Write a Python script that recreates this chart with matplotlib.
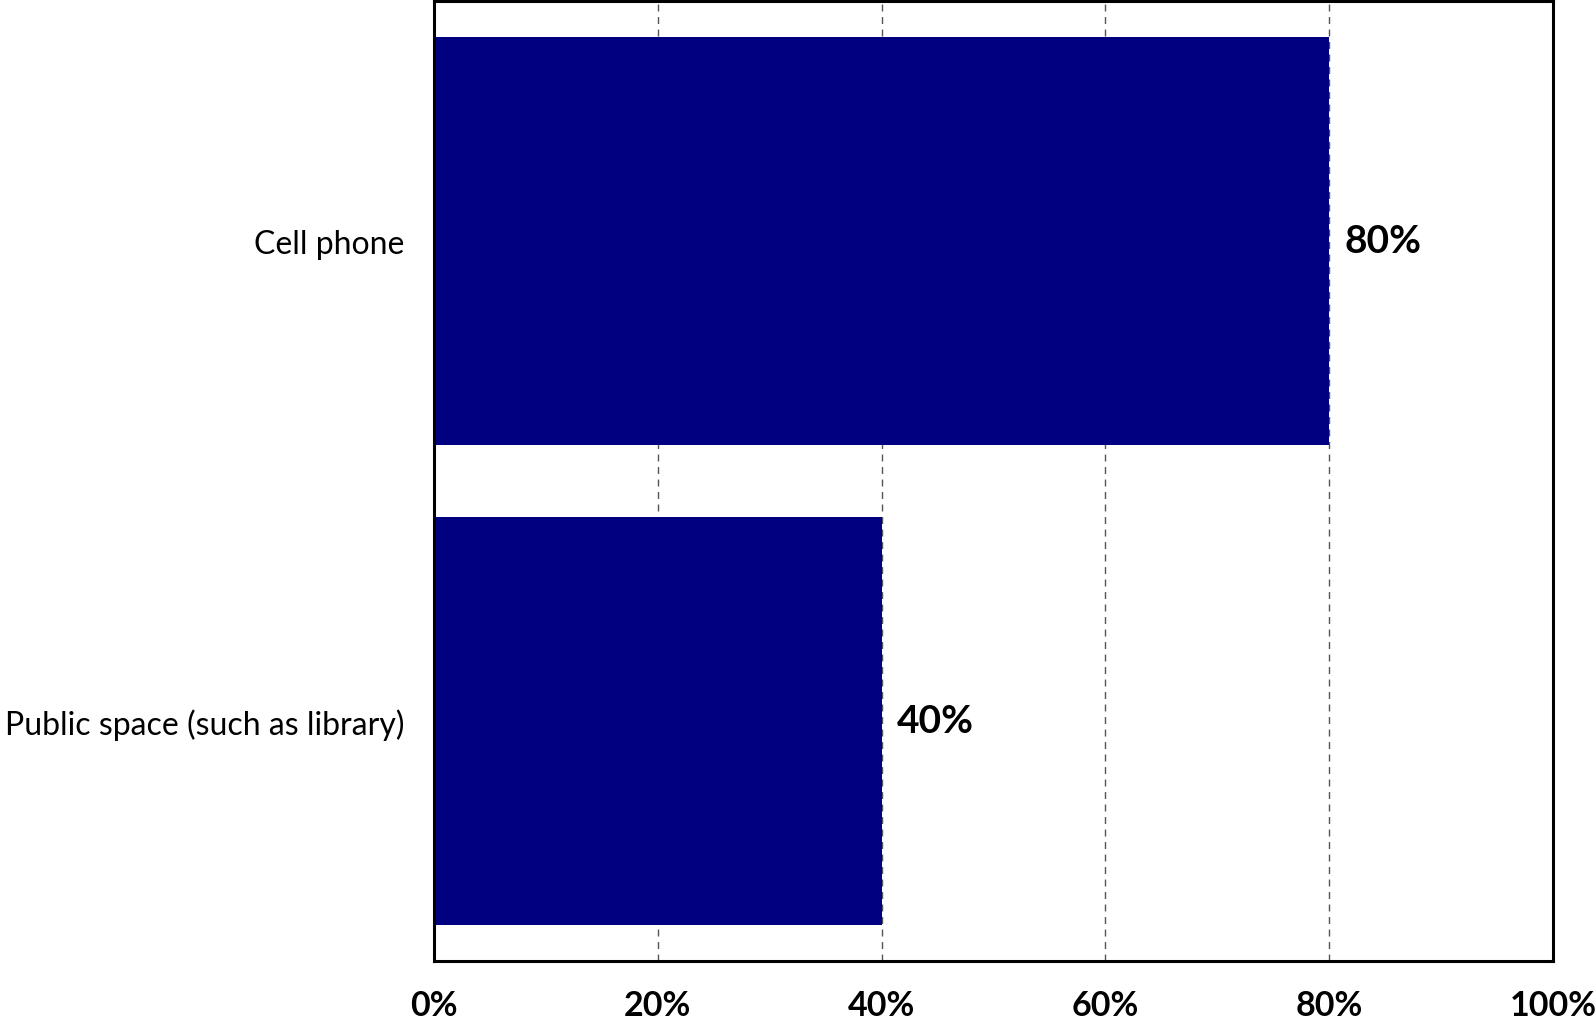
import matplotlib.pyplot as plt
import numpy as np

categories = ["Public space (such as library)", "Cell phone"]
values = [40, 80]
xticks = [0, 20, 40, 60, 80, 100]

plt.rcParams["font.family"] = ["Lato", "DejaVu Sans"]

fig = plt.figure(figsize=(15.96, 10.2), dpi=100)
ax = fig.add_axes([434 / 1596, 1 - 962 / 1020, (1553 - 434) / 1596, 960 / 1020])

y = np.arange(len(categories))
ax.barh(y, values, height=0.85, color="#000080", zorder=2)

for yi, v in zip(y, values):
    ax.text(v + 1.4, yi, f"{v}%", va="center", ha="left",
            fontsize=28, fontweight="bold")

ax.set_xlim(0, 100)
ax.set_ylim(-0.5, 1.5)
ax.set_xticks(xticks)
ax.set_xticklabels([f"{t}%" for t in xticks], fontsize=24.5, fontweight="bold")
ax.set_yticks(y)
ax.set_yticklabels(categories, fontsize=23)
ax.tick_params(axis="both", length=0)
ax.tick_params(axis="x", pad=20)
ax.tick_params(axis="y", pad=21)

ax.grid(axis="x", linestyle=(0, (5, 4)), color="#555555", linewidth=1, zorder=1)
ax.set_axisbelow(True)
for s in ax.spines.values():
    s.set_linewidth(2.2)
    s.set_color("black")

fig.savefig("out.png", dpi=100)
plt.close(fig)
